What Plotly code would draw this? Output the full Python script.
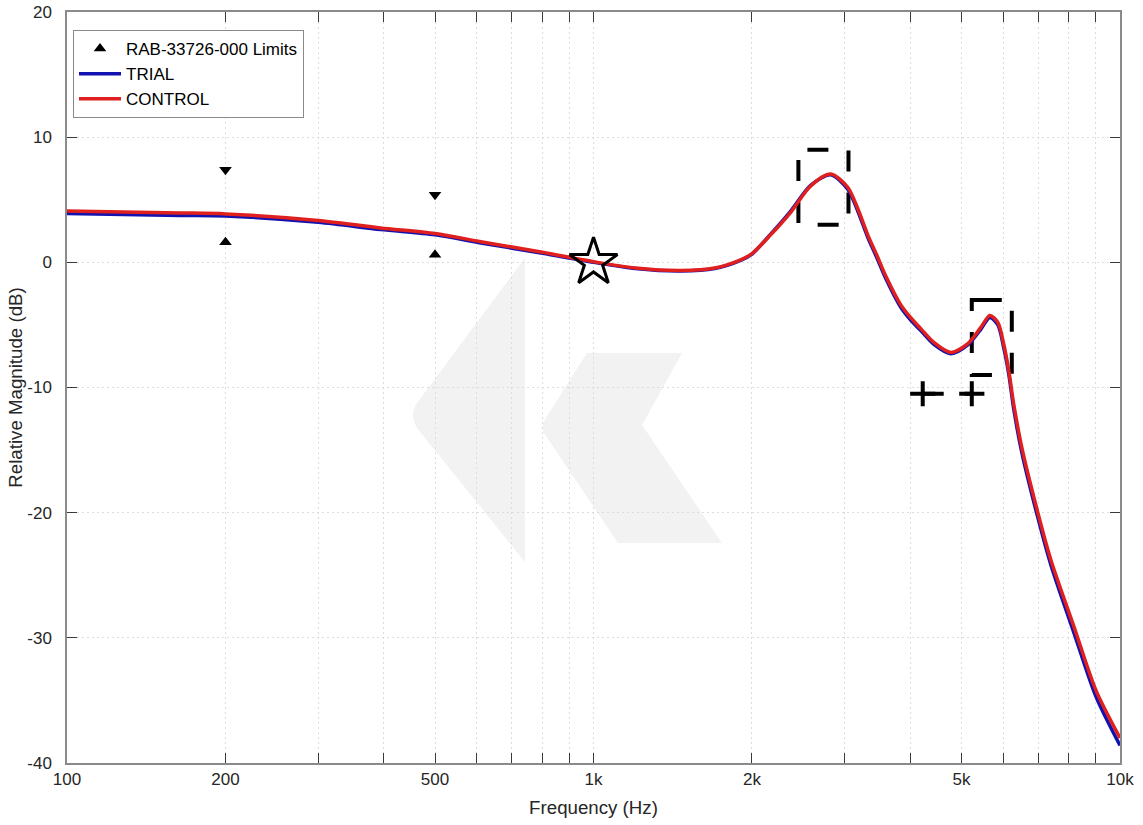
import plotly.graph_objects as go

# ---------------- data ----------------
freq_hz = [100, 164, 200, 300, 394, 500, 611, 800, 1000, 1200, 1464, 1700, 1903, 2000,
           2170, 2369, 2585, 2822, 3040, 3176, 3318, 3450, 3600, 3834, 4000, 4184, 4431, 4773,
           5140, 5441, 5660, 5861, 6019, 6151, 6287, 6510, 6982, 7394, 8176, 9002, 10000]
control_db = [4.1, 3.95, 3.87, 3.35, 2.75, 2.3, 1.65, 0.8, 0.05, -0.45, -0.65, -0.45, 0.2, 0.7,
              2.2, 4.0, 6.1, 7.05, 6.0, 4.3, 2.2, 0.6, -1.2, -3.4, -4.4, -5.3, -6.4, -7.2,
              -6.5, -5.2, -4.25, -4.8, -6.6, -8.7, -11.4, -14.8, -20.0, -23.8, -29.1, -34.2, -38.0]
trial_db = [3.9, 3.75, 3.7, 3.2, 2.62, 2.2, 1.55, 0.72, 0.0, -0.5, -0.7, -0.5, 0.15, 0.65,
            2.25, 4.1, 6.15, 7.0, 5.85, 4.1, 2.0, 0.4, -1.4, -3.6, -4.6, -5.45, -6.55, -7.3,
            -6.6, -5.35, -4.4, -5.0, -6.9, -9.0, -11.8, -15.2, -20.4, -24.2, -29.6, -34.7, -38.6]

limit_f = [200, 500]
limit_lower_db = [1.6, 0.6]
limit_upper_db = [7.4, 5.4]

ref_point_f = [1000]
ref_point_db = [0.0]

box1_f = [2450, 3050]
box1_db = [3.0, 9.0]
box2_f = [5230, 6230]
box2_db = [-9.0, -3.0]

hline_f = [4220, 5230]
hline_db = [-10.5, -10.5]

x_tick_vals = [100, 200, 300, 400, 500, 600, 700, 800, 900,
               1000, 2000, 3000, 4000, 5000, 6000, 7000, 8000, 9000, 10000]
x_tick_text = ["100", "200", "", "", "500", "", "", "", "",
               "1k", "2k", "", "", "5k", "", "", "", "", "10k"]
y_tick_vals = [-40, -30, -20, -10, 0, 10, 20]
y_tick_text = ["-40", "-30", "-20", "-10", "0", "10", "20"]

# ---------------- layout geometry ----------------
W, H = 1143, 825
PL, PR, PT, PB = 67, 1120, 12, 763          # plot area in window pixels
L, T, R, B = PL, PT, W - PR, H - PB
PX_PER_DEC = (PR - PL) / 2.0

FONT = "Liberation Sans, Arial, sans-serif"
TXT = "#262626"
FS = 17
FS_TITLE = 18.7

fig = go.Figure()


def dashed_box(fx, fy):
    # start 9px into the top edge so the dash pattern lines up
    x0 = fx[0] * 10 ** (9.0 / PX_PER_DEC)
    xs = [x0, fx[1], fx[1], fx[0], fx[0], x0]
    ys = [fy[1], fy[1], fy[0], fy[0], fy[1], fy[1]]
    return xs, ys


for bf, bd in [(box1_f, box1_db), (box2_f, box2_db)]:
    xs, ys = dashed_box(bf, bd)
    fig.add_trace(go.Scatter(x=xs, y=ys, mode="lines", showlegend=False, hoverinfo="skip",
                             line=dict(color="black", width=4, dash="21px,21px")))

fig.add_trace(go.Scatter(x=hline_f, y=hline_db, mode="lines+markers", showlegend=False,
                         hoverinfo="skip",
                         line=dict(color="black", width=4, dash="21px,21px"),
                         marker=dict(symbol="cross-thin", size=18,
                                     line=dict(color="black", width=4))))

fig.add_trace(go.Scatter(x=limit_f, y=limit_lower_db, mode="markers",
                         name="RAB-33726-000 Limits",
                         marker=dict(symbol="triangle-up", size=11, color="black")))
fig.add_trace(go.Scatter(x=limit_f, y=limit_upper_db, mode="markers", showlegend=False,
                         marker=dict(symbol="triangle-down", size=11, color="black")))

fig.add_trace(go.Scatter(x=freq_hz, y=trial_db, mode="lines", name="TRIAL",
                         line=dict(color="#1212b0", width=3.5, shape="spline", smoothing=0.8)))
fig.add_trace(go.Scatter(x=freq_hz, y=control_db, mode="lines", name="CONTROL",
                         line=dict(color="#e01f1f", width=3.5, shape="spline", smoothing=0.8)))

fig.add_trace(go.Scatter(x=ref_point_f, y=ref_point_db, mode="markers", showlegend=False,
                         marker=dict(symbol="star-open", size=36, color="black",
                                     line=dict(color="black", width=3))))


# ---------------- watermark (decorative) ----------------
def p(xp, yp):
    return (xp - PL) / (PR - PL), (PB - yp) / (PB - PT)


def path(cmds):
    out = []
    for c in cmds:
        if c[0] in ("M", "L"):
            x, y = p(c[1], c[2])
            out.append(f"{c[0]} {x:.4f},{y:.4f}")
        elif c[0] == "Q":
            x1, y1 = p(c[1], c[2])
            x2, y2 = p(c[3], c[4])
            out.append(f"Q {x1:.4f},{y1:.4f} {x2:.4f},{y2:.4f}")
        else:
            out.append("Z")
    return " ".join(out)


wm1 = path([("M", 525, 258), ("L", 417, 403), ("Q", 409, 415, 417, 428), ("L", 525, 562), ("Z",)])
wm2 = path([("M", 587, 353), ("L", 682, 353), ("L", 642, 425), ("L", 722, 543), ("L", 618, 543),
            ("L", 546, 436), ("Q", 539, 427, 546, 418), ("Z",)])
shapes = [dict(type="path", path=pp, xref="paper", yref="paper", fillcolor="#f2f2f2",
               line=dict(width=0), layer="below") for pp in (wm1, wm2)]

axis_common = dict(showline=True, linecolor="#8a8a8a", linewidth=1.5, mirror="allticks",
                   ticks="inside", ticklen=10, tickcolor="#3a3a3a", tickwidth=1.3,
                   showgrid=True, gridcolor="#dcdcdc", griddash="2px,3px", gridwidth=1,
                   zeroline=False, automargin=False,
                   tickfont=dict(family=FONT, size=FS, color=TXT))

fig.update_layout(
    width=W, height=H,
    margin=dict(l=L, r=R, t=T, b=B, autoexpand=False),
    paper_bgcolor="white", plot_bgcolor="white",
    shapes=shapes,
    showlegend=True,
    legend=dict(x=(73 - PL) / (PR - PL), y=(PB - 30) / (PB - PT), xanchor="left", yanchor="top",
                bgcolor="white", bordercolor="#8a8a8a", borderwidth=1,
                font=dict(family=FONT, size=FS, color="black"),
                tracegroupgap=0, itemwidth=42),
    xaxis=dict(type="log", range=[2, 4], tickmode="array", tickvals=x_tick_vals,
               ticktext=x_tick_text,
               title=dict(text="Frequency (Hz)", font=dict(family=FONT, size=FS_TITLE, color=TXT),
                          standoff=13),
               **axis_common),
    yaxis=dict(range=[-40, 20], tickmode="array", tickvals=y_tick_vals, ticktext=y_tick_text,
               title=dict(text="Relative Magnitude (dB)",
                          font=dict(family=FONT, size=FS_TITLE, color=TXT),
                          standoff=0),
               ticklabelstandoff=10, ticklabeloverflow="allow",
               **axis_common),
)

# the default page body margin (8px) would offset the chart inside the window
fig.write_html("out.html", config={"displayModeBar": False},
               post_script="document.body.style.margin='0px';")
